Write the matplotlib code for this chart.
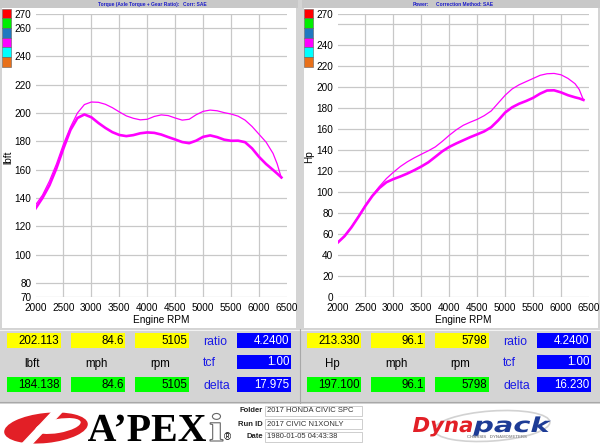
import numpy as np
import matplotlib.pyplot as plt
from matplotlib.patches import Rectangle, Ellipse, PathPatch
from matplotlib.textpath import TextPath
from matplotlib.font_manager import FontProperties
from matplotlib.transforms import Affine2D

plt.rcParams['font.family'] = ['Liberation Sans', 'DejaVu Sans']

# engine speed of the read points
rpm = [2000, 2125, 2250, 2375, 2500, 2625, 2750, 2875, 3000, 3125, 3250, 3375,
       3500, 3625, 3750, 3875, 4000, 4125, 4250, 4375, 4500, 4625, 4750, 4875,
       5000, 5125, 5250, 5375, 5500, 5625, 5750, 5875, 6000, 6125, 6250, 6325, 6400]

# torque (lbft), run 1 = thin line, run 2 = thick line
tq_run1 = [135, 142, 152, 164, 178, 190, 200, 206, 207.8, 207.6, 206.2, 203.8,
           200.8, 198, 196.3, 195.2, 195.6, 197.6, 198.7, 198.2, 196.5, 195, 195.6, 198.8,
           201.2, 202.1, 201.6, 200.3, 199.3, 197.8, 195, 190.5, 185, 179.5, 171.5, 164, 154]
tq_run2 = [132.5, 140, 149, 161, 175, 188, 196.5, 199, 197, 193, 189.5, 186.5,
           184.5, 183.7, 184.4, 185.7, 186.3, 186, 184.8, 183, 181.3, 179.5, 178.7, 180.5,
           183.2, 184.2, 183, 181.2, 180.4, 180.5, 179.4, 175, 169, 164, 159.8, 157.2, 154.5]

# power (Hp), run 1 = thin line, run 2 = thick line
hp_run1 = [51.7, 58, 67, 77, 87.6, 97, 105.5, 113, 119, 124.5, 129, 132.8,
           136.2, 139.5, 143.2, 148.5, 154.3, 159.5, 163.8, 166.8, 169.5, 173, 177.5, 185,
           192.5, 198.5, 202.5, 205.5, 208.5, 211.5, 213, 213.3, 212, 208.5, 203.5, 198, 188]
hp_run2 = [51.7, 58, 66.5, 76.5, 87, 96.5, 104, 109.5, 112.5, 115, 117.8, 121,
           124.5, 128.5, 133.7, 139, 143.2, 146.5, 149.5, 152.5, 155.2, 158, 162, 168.5,
           176, 181, 184.4, 187, 190, 194, 197, 197.2, 195.2, 192.5, 190.5, 189.5, 188]

x_ticks = [2000, 2500, 3000, 3500, 4000, 4500, 5000, 5500, 6000, 6500]
tq_yticks = [70, 80, 100, 120, 140, 160, 180, 200, 220, 240, 260, 270]
tq_ylabels = ['70', '80', '100', '120', '140', '160', '180', '200', '220', '240', '260', '270']
hp_yticks = [0, 20, 40, 60, 80, 100, 120, 140, 160, 180, 200, 220, 240, 260, 270]
hp_ylabels = ['0', '20', '40', '60', '80', '100', '120', '140', '160', '180', '200', '220', '240', '', '270']

# cursor readouts
tq_top = ['202.113', '84.6', '5105']
tq_bot = ['184.138', '84.6', '5105']
tq_side = ['4.2400', '1.00', '17.975']
hp_top = ['213.330', '96.1', '5798']
hp_bot = ['197.100', '96.1', '5798']
hp_side = ['4.2400', '1.00', '16.230']
side_names = ['ratio', 'tcf', 'delta']

swatches = ['#ff0000', '#00ee00', '#1f78c0', '#ff00ff', '#00ffff', '#e8701a']

run_info = [('Folder', '2017 HONDA CIVIC SPC'), ('Run ID', '2017 CIVIC N1XONLY'),
            ('Date', '1980-01-05 04:43:38')]

GREY = '#d4d4d4'
MAG = '#ff00ff'
LBLUE = '#1a1ae6'

fig = plt.figure(figsize=(6, 4.47), dpi=100)
fig.patch.set_facecolor(GREY)

# background layer in pixel coordinates
bg = fig.add_axes([0, 0, 1, 1], zorder=0)
bg.set_xlim(0, 600)
bg.set_ylim(447, 0)
bg.axis('off')


def box(x0, y0, x1, y1, fc, ec='none', lw=0.6):
    bg.add_patch(Rectangle((x0, y0), x1 - x0, y1 - y0, facecolor=fc, edgecolor=ec, linewidth=lw))


def word(s, x0, x1, base, cap, prop, fc, ec='none', lw=0):
    # text drawn as a path, stretched to fit x0..x1 with the given cap height
    tp = TextPath((0, 0), s, size=1, prop=prop)
    ext = tp.get_extents()
    hh = TextPath((0, 0), 'H', size=1, prop=prop).get_extents().height
    tr = Affine2D().translate(-ext.x0, 0).scale((x1 - x0) / ext.width, -cap / hh).translate(x0, base)
    bg.add_patch(PathPatch(tr.transform_path(tp), facecolor=fc, edgecolor=ec, linewidth=lw))


def draw_panel(px, titles, ylabel, yticks, ylabels, ylim, run1, run2, lab_x):
    # white chart background and title bar
    box(px + 2, 8, px + 296, 328, 'white')
    box(px + 0, 0, px + 298, 8, '#c8c8c8')
    for tx, s in titles:
        bg.text(px + tx, 4.3, s, color='#1c1cc8', fontsize=3.5, fontweight='bold', ha='left', va='center')
    for i, c in enumerate(swatches):
        box(px + 2, 8.5 + i * 9.7, px + 11, 8.5 + (i + 1) * 9.7, c, ec='#606060', lw=0.4)

    ax = fig.add_axes([(px + 35.5) / 600, 1 - 297 / 447, 251.5 / 600, 283 / 447], zorder=1)
    ax.set_facecolor('none')
    ax.set_xlim(2000, 6500)
    ax.set_ylim(*ylim)
    for v in yticks:
        ax.axhline(v, color='#c8c8c8', lw=0.9, zorder=1)
    for v in x_ticks[1:-1]:
        ax.axvline(v, color='#c8c8c8', lw=0.9, zorder=1)
    ax.plot(rpm, run1, color=MAG, lw=0.9, zorder=3)
    ax.plot(rpm, run2, color=MAG, lw=1.9, zorder=3)
    ax.set_xticks(x_ticks)
    ax.set_yticks(yticks)
    ax.set_yticklabels(ylabels)
    ax.tick_params(length=0, labelsize=7.2, colors='black')
    ax.tick_params(axis='y', pad=3)
    ax.tick_params(axis='x', pad=4.5)
    for sp in ax.spines.values():
        sp.set_visible(False)
    ax.set_xlabel('Engine RPM', fontsize=7.2)
    ax.xaxis.set_label_coords(0.5, -0.063)
    ax.set_ylabel(ylabel, fontsize=7.2)
    ax.yaxis.set_label_coords(lab_x, 0.495)
    return ax


draw_panel(0, [(98, 'Torque (Axle Torque + Gear Ratio):'), (183, 'Corr: SAE')], 'lbft',
           tq_yticks, tq_ylabels, (70, 270), tq_run1, tq_run2, -0.089)
draw_panel(302, [(111, 'Power:'), (134, 'Correction Method: SAE')], 'Hp',
           hp_yticks, hp_ylabels, (0, 270), hp_run1, hp_run2, -0.092)

# readout panels
box(0, 329, 600, 403, GREY)
bg.plot([0, 600], [329.5, 329.5], color='#f2f2f2', lw=0.8)
bg.plot([299.5, 299.5], [329, 403], color='#a8a8a8', lw=0.8)
bg.plot([0, 600], [402, 402], color='#a8a8a8', lw=0.8)


def readout(px, unit, top, bot, side):
    cols = [(7, 61), (71, 125), (135, 189)]
    names = [unit, 'mph', 'rpm']
    for (x0, x1), t, b, n in zip(cols, top, bot, names):
        box(px + x0, 333, px + x1, 348, '#ffff00')
        bg.text(px + x1 - 1.5, 341, t, fontsize=8.3, ha='right', va='center')
        box(px + x0, 377, px + x1, 392, '#00ff00')
        bg.text(px + x1 - 1.5, 385, b, fontsize=8.3, ha='right', va='center')
        bg.text(px + (x0 + x1) / 2 - 2, 364, n, fontsize=8.3, ha='center', va='center')
    for (y0, y1), s, n in zip([(333, 348), (355, 369), (377, 392)], side, side_names):
        box(px + 237, y0, px + 291, y1, '#0000ff')
        bg.text(px + 289.5, (y0 + y1) / 2, s, fontsize=8.3, color='white', ha='right', va='center')
        bg.text(px + 203, (y0 + y1) / 2 + 1.5, n, fontsize=8.8, color=LBLUE, ha='left', va='center')


readout(0, 'lbft', tq_top, tq_bot, tq_side)
readout(300, 'Hp', hp_top, hp_bot, hp_side)

# logo strip
box(0, 404, 600, 447, 'white')

bg.add_patch(Ellipse((46, 428), 84, 30, angle=-6, facecolor='#e21f26', edgecolor='none'))
bg.add_patch(Ellipse((58, 426), 46, 14, angle=-10, facecolor='white', edgecolor='none'))
bg.fill([20, 30, 62, 52], [446, 446, 412, 412], color='white')
serif = FontProperties(family='Liberation Serif', weight='bold')
word('A\u2019PEX', 88, 206, 441, 26, serif, 'black')
word('i', 210, 223, 441, 26, serif, 'white', ec='#666666', lw=0.8)
bg.text(224, 440, '\u00ae', fontsize=7, ha='left', va='baseline')

for i, (lab, val) in enumerate(run_info):
    y = 411 + i * 13
    bg.text(263, y, lab, fontsize=5.5, fontweight='bold', ha='right', va='center', color='#222222')
    box(265, y - 5, 362, y + 5, 'white', ec='#bbbbbb', lw=0.5)
    t = bg.text(267, y, val, fontsize=5.5, ha='left', va='center', color='#333333')
    t.set_clip_path(Rectangle((265, y - 5), 97, 10, transform=bg.transData))

bg.add_patch(Ellipse((492, 426), 116, 30, angle=-4, facecolor='none', edgecolor='#d2d2d2', lw=1.2))
sans_bi = FontProperties(family='DejaVu Sans', weight='bold', style='italic')
word('Dyna', 413, 472, 432, 15, sans_bi, '#e21f26')
word('pack', 473, 551, 432, 15, sans_bi, '#1e3c96')
bg.text(497, 436.5, 'CHASSIS   DYNAMOMETERS', fontsize=3.2, color='#909090', ha='center',
        va='center', fontweight='bold')

fig.savefig('out.png', dpi=100, facecolor=fig.get_facecolor())
